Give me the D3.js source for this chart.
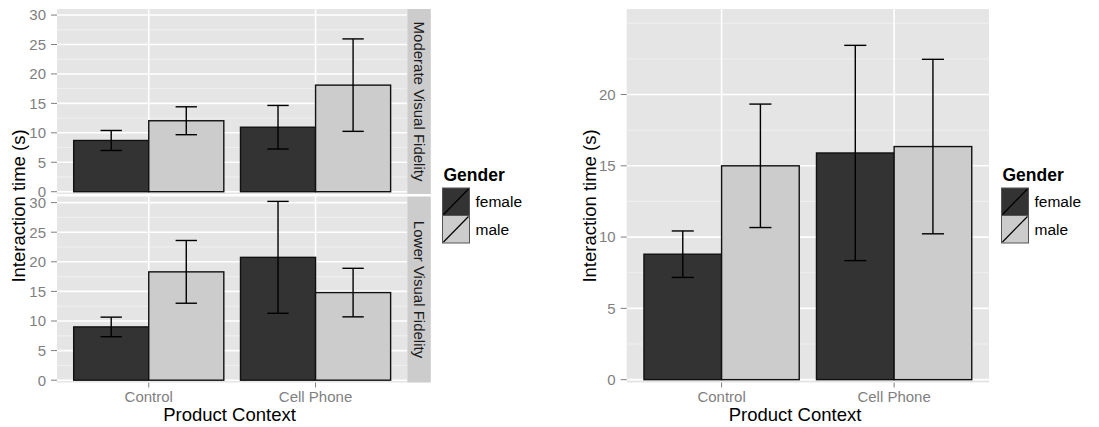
<!DOCTYPE html>
<html>
<head>
<meta charset="utf-8">
<script src="https://cdn.jsdelivr.net/npm/d3@7"></script>
<style>
  body { margin: 0; background: #fff; }
  text { font-family: "Liberation Sans", Arial, sans-serif; }
</style>
</head>
<body>
<div id="chart"></div>
<script>
// categories
const contexts = ["Control", "Cell Phone"];
const genders = ["female", "male"];

// values in order Control-female, Control-male, Cell Phone-female, Cell Phone-male
const moderateMean = [8.7, 12.05, 10.95, 18.1];
const moderateErr = [1.7, 2.37, 3.7, 7.85];
const lowerMean = [9.0, 18.3, 20.75, 14.8];
const lowerErr = [1.65, 5.3, 9.45, 4.1];
const overallMean = [8.8, 15.0, 15.9, 16.35];
const overallErr = [1.63, 4.33, 7.55, 6.12];

// tick values
const leftTicks = [0, 5, 10, 15, 20, 25, 30];
const leftMinor = [2.5, 7.5, 12.5, 17.5, 22.5, 27.5];
const rightTicks = [0, 5, 10, 15, 20];
const rightMinor = [2.5, 7.5, 12.5, 17.5, 22.5, 25];

const facetLabels = ["Moderate Visual Fidelity", "Lower Visual Fidelity"];

const fill = d3.scaleOrdinal().domain(genders).range(["#333333", "#CCCCCC"]);

const W = 1099, H = 427;
const svg = d3.select("#chart").append("svg")
    .attr("width", W)
    .attr("height", H);

function rows(means, errs) {
    const out = [];
    contexts.forEach((c, i) => {
        genders.forEach((g, j) => {
            const k = i * 2 + j;
            out.push({context: c, ci: i + 1, gender: g, gi: j, mean: means[k], err: errs[k]});
        });
    });
    return out;
}

// draws one panel with bars, error bars, grid and y axis
function drawPanel(x0, x1, y0, y1, domain, ticks, minor, data, showX) {
    const x = d3.scaleLinear().domain([0.45, 2.55]).range([x0, x1]);
    const y = d3.scaleLinear().domain(domain).range([y1, y0]);
    const g = svg.append("g");

    g.append("rect")
        .attr("x", x0).attr("y", y0)
        .attr("width", x1 - x0).attr("height", y1 - y0)
        .attr("fill", "#E5E5E5");

    g.selectAll(".minor").data(minor).enter().append("line")
        .attr("x1", x0).attr("x2", x1)
        .attr("y1", d => y(d)).attr("y2", d => y(d))
        .attr("stroke", "#F2F2F2").attr("stroke-width", 0.8);

    g.selectAll(".major").data(ticks).enter().append("line")
        .attr("x1", x0).attr("x2", x1)
        .attr("y1", d => y(d)).attr("y2", d => y(d))
        .attr("stroke", "#fff").attr("stroke-width", 1.6);

    g.selectAll(".vgrid").data([1, 2]).enter().append("line")
        .attr("x1", d => x(d)).attr("x2", d => x(d))
        .attr("y1", y0).attr("y2", y1)
        .attr("stroke", "#fff").attr("stroke-width", 1.6);

    const bw = 0.45;
    g.selectAll(".bar").data(data).enter().append("rect")
        .attr("x", d => x(d.ci - bw + d.gi * bw))
        .attr("y", d => y(d.mean))
        .attr("width", x(bw) - x(0))
        .attr("height", d => y(0) - y(d.mean))
        .attr("fill", d => fill(d.gender))
        .attr("stroke", "#111")
        .attr("stroke-width", 1.4);

    const cap = 0.064;
    data.forEach(d => {
        const cx = x(d.ci - bw / 2 + d.gi * bw);
        const hw = x(cap) - x(0);
        const eb = g.append("g").attr("stroke", "#000").attr("stroke-width", 1.4);
        eb.append("line").attr("x1", cx).attr("x2", cx)
            .attr("y1", y(d.mean + d.err)).attr("y2", y(d.mean - d.err));
        eb.append("line").attr("x1", cx - hw).attr("x2", cx + hw)
            .attr("y1", y(d.mean + d.err)).attr("y2", y(d.mean + d.err));
        eb.append("line").attr("x1", cx - hw).attr("x2", cx + hw)
            .attr("y1", y(d.mean - d.err)).attr("y2", y(d.mean - d.err));
    });

    // y axis
    g.selectAll(".ytick").data(ticks).enter().append("line")
        .attr("x1", x0 - 6).attr("x2", x0)
        .attr("y1", d => y(d)).attr("y2", d => y(d))
        .attr("stroke", "#7F7F7F");
    g.selectAll(".ylab").data(ticks).enter().append("text")
        .attr("x", x0 - 11).attr("y", d => y(d))
        .attr("dy", "0.36em")
        .attr("text-anchor", "end")
        .attr("font-size", 15)
        .attr("fill", "#7F7F7F")
        .text(d => d);

    if (showX) {
        g.selectAll(".xtick").data([1, 2]).enter().append("line")
            .attr("x1", d => x(d)).attr("x2", d => x(d))
            .attr("y1", y1).attr("y2", y1 + 5)
            .attr("stroke", "#7F7F7F");
        g.selectAll(".xlab").data(contexts).enter().append("text")
            .attr("x", (d, i) => x(i + 1)).attr("y", 402)
            .attr("text-anchor", "middle")
            .attr("font-size", 15)
            .attr("fill", "#7F7F7F")
            .text(d => d);
    }
    return g;
}

function strip(x0, y0, y1, label) {
    svg.append("rect")
        .attr("x", x0).attr("y", y0)
        .attr("width", 23.5).attr("height", y1 - y0)
        .attr("fill", "#CCCCCC");
    svg.append("text")
        .attr("transform", `translate(${x0 + 11.75},${(y0 + y1) / 2}) rotate(90)`)
        .attr("text-anchor", "middle")
        .attr("dy", "0.36em")
        .attr("font-size", 15)
        .attr("fill", "#1A1A1A")
        .text(label);
}

function legend(lx, ty) {
    const lg = svg.append("g").attr("transform", `translate(${lx},${ty})`);
    lg.append("text")
        .attr("x", 1).attr("y", 0)
        .attr("font-size", 17.5)
        .attr("font-weight", "bold")
        .text("Gender");
    genders.forEach((gname, i) => {
        const ky = 7 + i * 27.5;
        lg.append("rect")
            .attr("x", 0).attr("y", ky)
            .attr("width", 27).attr("height", 27.5)
            .attr("fill", fill(gname))
            .attr("stroke", "#555").attr("stroke-width", 1);
        lg.append("line")
            .attr("x1", 1).attr("y1", ky + 26.5)
            .attr("x2", 26).attr("y2", ky + 1)
            .attr("stroke", "#000").attr("stroke-width", 1.2);
        lg.append("text")
            .attr("x", 33).attr("y", ky + 13.75)
            .attr("dy", "0.36em")
            .attr("font-size", 15.5)
            .text(gname);
    });
}

function axisTitles(xcx, ycx) {
    svg.append("text")
        .attr("x", xcx).attr("y", 421)
        .attr("text-anchor", "middle")
        .attr("font-size", 18.5)
        .text("Product Context");
    svg.append("text")
        .attr("transform", `translate(${ycx},206) rotate(-90)`)
        .attr("text-anchor", "middle")
        .attr("dy", "0.36em")
        .attr("font-size", 18.5)
        .text("Interaction time (s)");
}

// left plot: faceted by visual fidelity
const leftDomain = [-0.39, 31.03];
drawPanel(57, 407.3, 9, 194, leftDomain, leftTicks, leftMinor, rows(moderateMean, moderateErr), false);
drawPanel(57, 407.3, 196.5, 382.5, leftDomain, leftTicks, leftMinor, rows(lowerMean, lowerErr), true);
strip(407.3, 9, 194, facetLabels[0]);
strip(407.3, 196.5, 382.5, facetLabels[1]);
axisTitles(229.5, 18);
legend(442.5, 181);

// right plot: all fidelity levels
drawPanel(626.7, 989, 9, 382.5, [-0.2, 26.0], rightTicks, rightMinor, rows(overallMean, overallErr), true);
axisTitles(795, 589);
legend(1001.5, 181);
</script>
</body>
</html>
